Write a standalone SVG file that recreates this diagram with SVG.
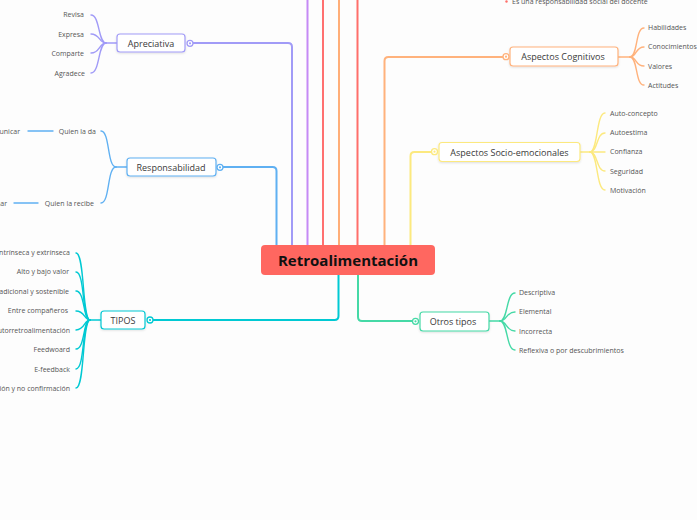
<svg xmlns="http://www.w3.org/2000/svg" width="697" height="520" viewBox="0 0 697 520">
<defs>
<filter id="sh" x="-20%" y="-30%" width="140%" height="170%"><feDropShadow dx="0" dy="1" stdDeviation="1" flood-color="#000" flood-opacity="0.12"/></filter>
</defs>
<style>
.bg{fill:#fdfdfd}
.node{fill:#fff;stroke-width:1.2;filter:url(#sh)}
.lbl{font-family:"Open Sans","Noto Sans",sans-serif;font-size:9px;fill:#3a3a3a;text-anchor:middle}
.ch{font-family:"Open Sans","Noto Sans",sans-serif;font-size:7px;fill:#555}
.chL{font-family:"Open Sans","Noto Sans",sans-serif;font-size:7px;fill:#555;text-anchor:end}
.br{fill:none;stroke-width:2;stroke-linecap:round;stroke-linejoin:round}
.sub{fill:none;stroke-width:1.4;stroke-linecap:round}
.ring{fill:#fff;stroke-width:1.3}
</style>
<rect class="bg" x="0" y="0" width="697" height="520"/>

<g id="connectors">
  <path class="br" stroke="#c58af5" d="M307.5 245 V-5"/>
  <path class="br" stroke="#ff7070" d="M323 245 V-5"/>
  <path class="br" stroke="#ffae78" d="M339 245 V-5"/>
  <path class="br" stroke="#ff6f6a" d="M357.5 245 V-5"/>
  <path class="br" stroke="#5fb0f2" d="M276.5 245 V171 Q276.5 167 272.5 167 H222"/>
  <path class="br" stroke="#a19bf7" d="M292 245 V47 Q292 43 288 43 H192"/>
  <path class="br" stroke="#ffb27c" d="M384.5 245 V61 Q384.5 57 388.5 57 H504"/>
  <path class="br" stroke="#fce97f" d="M410.5 245 V156 Q410.5 152 414.5 152 H432.5"/>
  <path class="br" stroke="#00c9d3" d="M338.5 275 V316 Q338.5 320 334.5 320 H152"/>
  <path class="br" stroke="#45d9a6" d="M358 275 V317 Q358 321 362 321 H413.5"/>

  <g stroke="#a19bf7">
    <path class="sub" d="M117 43 H106"/>
    <path class="sub" d="M106 43 C98 43 100 15 91 15"/>
    <path class="sub" d="M106 43 C99 43 100 34 91 34"/>
    <path class="sub" d="M106 43 C99 43 100 53 91 53"/>
    <path class="sub" d="M106 43 C98 43 100 73 91 73"/>
  </g>
  <g stroke="#5fb0f2">
    <path class="sub" d="M127 167 H116"/>
    <path class="sub" d="M116 167 C107 167 110 131 101 131"/>
    <path class="sub" d="M116 167 C107 167 110 203 101 203"/>
    <path class="sub" d="M53 131 H28"/>
    <path class="sub" d="M38 203 H14"/>
  </g>
  <g stroke="#00c9d3">
    <path class="sub" d="M101 320 H90"/>
    <path class="sub" d="M90 320 C82 320 85 253 76 253"/>
    <path class="sub" d="M90 320 C82 320 85 272 76 272"/>
    <path class="sub" d="M90 320 C83 320 85 291 76 291"/>
    <path class="sub" d="M90 320 C84 320 85 311 76 311"/>
    <path class="sub" d="M90 320 C84 320 85 330 76 330"/>
    <path class="sub" d="M90 320 C83 320 85 349 76 349"/>
    <path class="sub" d="M90 320 C82 320 85 369 76 369"/>
    <path class="sub" d="M90 320 C82 320 85 388 76 388"/>
  </g>
  <g stroke="#ffb27c">
    <path class="sub" d="M618 57 H630"/>
    <path class="sub" d="M630 57 C638 57 635 28 644 28"/>
    <path class="sub" d="M630 57 C637 57 635 47 644 47"/>
    <path class="sub" d="M630 57 C637 57 635 66 644 66"/>
    <path class="sub" d="M630 57 C638 57 635 85 644 85"/>
  </g>
  <g stroke="#fce97f">
    <path class="sub" d="M580 152 H590"/>
    <path class="sub" d="M590 152 C598 152 596 113 605 113"/>
    <path class="sub" d="M590 152 C598 152 596 133 605 133"/>
    <path class="sub" d="M590 152 H605"/>
    <path class="sub" d="M590 152 C598 152 596 171 605 171"/>
    <path class="sub" d="M590 152 C598 152 596 190 605 190"/>
  </g>
  <g stroke="#45d9a6">
    <path class="sub" d="M489 321 H500"/>
    <path class="sub" d="M500 321 C508 321 506 293 515 293"/>
    <path class="sub" d="M500 321 C507 321 506 312 515 312"/>
    <path class="sub" d="M500 321 C507 321 506 331 515 331"/>
    <path class="sub" d="M500 321 C508 321 506 350 515 350"/>
  </g>
</g>

<g id="top-remnant">
  <circle cx="506.5" cy="1.5" r="1.2" fill="#ff6f6a"/>
  <text class="ch" x="512" y="3.5">Es una responsabilidad social del docente</text>
</g>

<g id="central">
  <rect x="261" y="245" width="174" height="30" rx="4" fill="#ff6760"/>
  <text x="348" y="266" text-anchor="middle" font-family="'Open Sans','Noto Sans',sans-serif" font-size="15" font-weight="bold" fill="#111">Retroalimentación</text>
</g>

<g id="apreciativa">
  <rect class="node" x="117" y="34" width="68" height="18" rx="3" stroke="#a19bf7"/>
  <text class="lbl" x="151" y="46.5">Apreciativa</text>
  <circle class="ring" cx="190" cy="43.3" r="3" stroke="#a19bf7"/>
  <circle cx="190" cy="43.3" r="1.1" fill="#a19bf7"/>
  <text class="chL" x="84" y="17">Revisa</text>
  <text class="chL" x="84" y="37">Expresa</text>
  <text class="chL" x="84" y="56">Comparte</text>
  <text class="chL" x="85" y="75.5">Agradece</text>
</g>

<g id="responsabilidad">
  <rect class="node" x="127" y="158" width="89" height="18" rx="3" stroke="#5fb0f2"/>
  <text class="lbl" x="171" y="170.5">Responsabilidad</text>
  <circle class="ring" cx="220" cy="167.3" r="3" stroke="#5fb0f2"/>
  <circle cx="220" cy="167.3" r="1.1" fill="#5fb0f2"/>
  <text class="chL" x="96" y="134">Quien la da</text>
  <text class="chL" x="94" y="206">Quien la recibe</text>
  <text class="chL" x="20" y="134">Comunicar</text>
  <text class="chL" x="7" y="206">Escuchar</text>
</g>

<g id="tipos">
  <rect class="node" x="101" y="311" width="44" height="18" rx="3" stroke="#00c9d3"/>
  <text class="lbl" x="123" y="323.5">TIPOS</text>
  <circle class="ring" cx="150" cy="320" r="3" stroke="#00c9d3"/>
  <circle cx="150" cy="320" r="1.1" fill="#00c9d3"/>
  <text class="chL" x="70" y="255">Intrínseca y extrínseca</text>
  <text class="chL" x="69" y="274">Alto y bajo valor</text>
  <text class="chL" x="69" y="294">Tradicional y sostenible</text>
  <text class="chL" x="68" y="313">Entre compañeros</text>
  <text class="chL" x="70" y="332.5">Autorretroalimentación</text>
  <text class="chL" x="70" y="352">Feedwoard</text>
  <text class="chL" x="70" y="371.5">E-feedback</text>
  <text class="chL" x="70" y="391">Confirmación y no confirmación</text>
</g>

<g id="aspectos-cognitivos">
  <rect class="node" x="510" y="47" width="108" height="19" rx="3" stroke="#ffb27c"/>
  <text class="lbl" x="563" y="60">Aspectos Cognitivos</text>
  <circle class="ring" cx="506" cy="56.7" r="3" stroke="#ffb27c"/>
  <circle cx="506" cy="56.7" r="1.1" fill="#ffb27c"/>
  <text class="ch" x="648" y="30">Habilidades</text>
  <text class="ch" x="648" y="49">Conocimientos</text>
  <text class="ch" x="648" y="69">Valores</text>
  <text class="ch" x="648" y="88">Actitudes</text>
</g>

<g id="aspectos-socio-emocionales">
  <rect class="node" x="439" y="142.5" width="141" height="19" rx="3" stroke="#fce97f"/>
  <text class="lbl" x="509.5" y="155.5">Aspectos Socio-emocionales</text>
  <circle class="ring" cx="434.5" cy="151.7" r="3" stroke="#fce97f"/>
  <circle cx="434.5" cy="151.7" r="1.1" fill="#fce97f"/>
  <text class="ch" x="610" y="115.5">Auto-concepto</text>
  <text class="ch" x="610" y="135">Autoestima</text>
  <text class="ch" x="610" y="154">Confianza</text>
  <text class="ch" x="610" y="173.5">Seguridad</text>
  <text class="ch" x="610" y="192.5">Motivación</text>
</g>

<g id="otros-tipos">
  <rect class="node" x="420" y="312" width="69" height="19" rx="3" stroke="#45d9a6"/>
  <text class="lbl" x="453" y="325">Otros tipos</text>
  <circle class="ring" cx="415.5" cy="321.3" r="3" stroke="#45d9a6"/>
  <circle cx="415.5" cy="321.3" r="1.1" fill="#45d9a6"/>
  <text class="ch" x="519" y="295">Descriptiva</text>
  <text class="ch" x="519" y="314">Elemental</text>
  <text class="ch" x="519" y="333.5">Incorrecta</text>
  <text class="ch" x="519" y="352.5">Reflexiva o por descubrimientos</text>
</g>
</svg>
